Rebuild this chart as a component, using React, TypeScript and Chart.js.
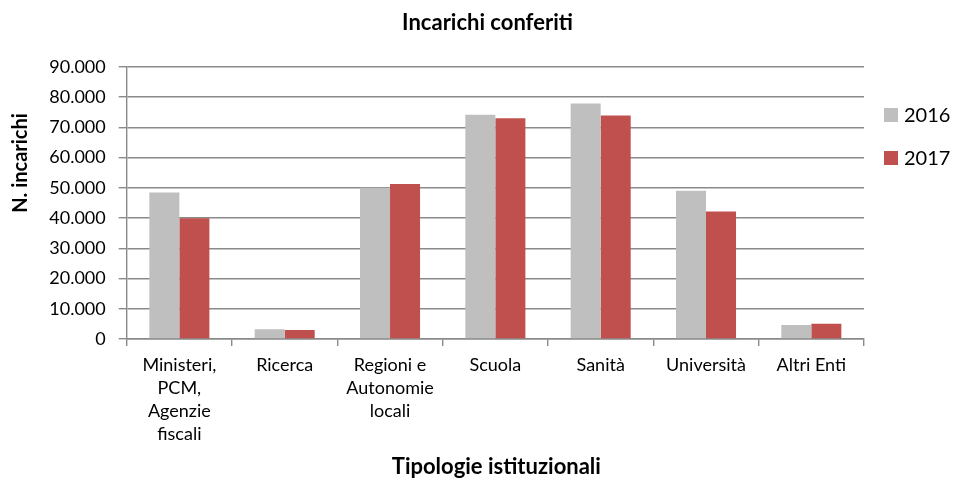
import React, { useEffect, useRef } from "react";
import { Chart, registerables } from "chart.js";

Chart.register(...registerables);

const chartTitle = "Incarichi conferiti";
const xTitle = "Tipologie istituzionali";
const yTitle = "N. incarichi";
const categories: (string | string[])[] = [
  ["Ministeri,", "PCM,", "Agenzie", "fiscali"],
  "Ricerca",
  ["Regioni e", "Autonomie", "locali"],
  "Scuola",
  "Sanità",
  "Università",
  "Altri Enti",
];
const seriesLabels = ["2016", "2017"];
const values2016 = [48400, 3200, 50000, 74100, 77800, 49000, 4600];
const values2017 = [39900, 3000, 51200, 73000, 73900, 42100, 5000];
const seriesColors = ["#BFBFBF", "#C0504D"];
const yMin = 0;
const yMax = 90000;
const yStep = 10000;

const FONT = "Lato, 'Open Sans', sans-serif";

function fmt(v: number): string {
  return String(v).replace(/\B(?=(\d{3})+(?!\d))/g, ".");
}

const customPlugin = {
  id: "customDecor",
  afterDraw(chart: any) {
    const ctx = chart.ctx as CanvasRenderingContext2D;
    const area = chart.chartArea;
    ctx.save();
    ctx.fillStyle = "#000";
    ctx.textAlign = "center";
    ctx.textBaseline = "middle";
    // chart title
    ctx.font = `bold 22px ${FONT}`;
    ctx.fillText(chartTitle, 487.5, 23);
    // x-axis title
    ctx.font = `bold 22px ${FONT}`;
    ctx.fillText(xTitle, (area.left + area.right) / 2 + 1, 467);
    // y-axis title
    ctx.translate(21, 163);
    ctx.rotate(-Math.PI / 2);
    ctx.font = `bold 20px ${FONT}`;
    ctx.fillText(yTitle, 0, 0);
    ctx.restore();
    // legend
    ctx.save();
    chart.data.datasets.forEach((ds: any, i: number) => {
      const cy = 115 + i * 43;
      const bx = area.right + 20;
      ctx.fillStyle = ds.backgroundColor;
      ctx.fillRect(bx, cy - 7, 14, 14);
      ctx.fillStyle = "#000";
      ctx.font = `20px ${FONT}`;
      ctx.textAlign = "left";
      ctx.textBaseline = "middle";
      ctx.fillText(ds.label, bx + 20, cy + 1);
    });
    ctx.restore();
  },
};

export default function App() {
  const ref = useRef<HTMLCanvasElement | null>(null);
  useEffect(() => {
    document.body.style.margin = "0";
    const canvas = ref.current;
    if (!canvas) return;
    const chart = new Chart(canvas, {
      type: "bar",
      data: {
        labels: categories,
        datasets: [
          {
            label: seriesLabels[0],
            data: values2016,
            backgroundColor: seriesColors[0],
            categoryPercentage: 0.57,
            barPercentage: 1.0,
          },
          {
            label: seriesLabels[1],
            data: values2017,
            backgroundColor: seriesColors[1],
            categoryPercentage: 0.57,
            barPercentage: 1.0,
          },
        ],
      },
      options: {
        responsive: false,
        animation: false,
        devicePixelRatio: 1,
        layout: { padding: { left: 0, right: 91, top: 66.7, bottom: 0 } },
        plugins: {
          legend: { display: false },
          tooltip: { enabled: false },
          title: { display: false },
        },
        scales: {
          x: {
            afterFit(scale: any) {
              scale.height = 140;
            },
            grid: {
              drawOnChartArea: false,
              drawTicks: true,
              tickLength: 7,
              color: "#8a8a8a",
              lineWidth: 1.4,
            },
            border: { display: true, color: "#8a8a8a", width: 1.4 },
            ticks: {
              color: "#000",
              font: { family: FONT, size: 18, lineHeight: 1.28 },
              padding: 7.5,
              maxRotation: 0,
              autoSkip: false,
            },
            title: { display: false },
          },
          y: {
            min: yMin,
            max: yMax,
            afterFit(scale: any) {
              scale.width = 126.7;
            },
            grid: {
              color: "#8a8a8a",
              lineWidth: 1.4,
              drawTicks: true,
              tickLength: 8,
            },
            border: { display: true, color: "#8a8a8a", width: 1.4 },
            ticks: {
              stepSize: yStep,
              color: "#000",
              font: { family: FONT, size: 18 },
              padding: 13,
              callback: (v: any) => fmt(Number(v)),
            },
          },
        },
      },
      plugins: [customPlugin],
    });
    return () => chart.destroy();
  }, []);
  return (
    <div style={{ width: 955, height: 479, background: "#fff" }}>
      <canvas ref={ref} width={955} height={479} />
    </div>
  );
}
